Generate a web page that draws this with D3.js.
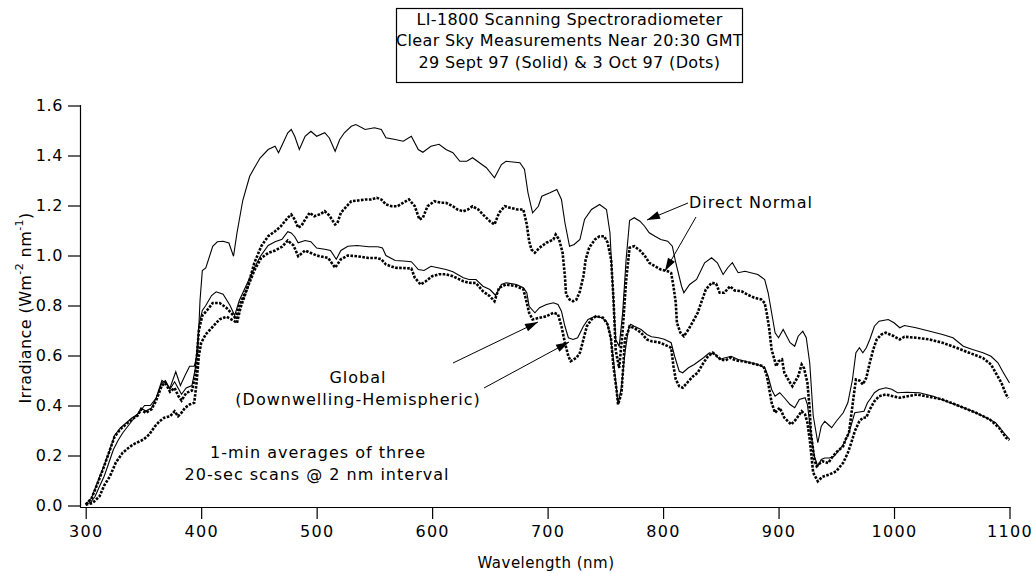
<!DOCTYPE html>
<html>
<head>
<meta charset="utf-8">
<script src="https://cdn.jsdelivr.net/npm/d3@7"></script>
<style>
  body { margin: 0; background: #fff; }
  text { font-family: "DejaVu Sans", sans-serif; fill: #000; }
</style>
</head>
<body>
<div id="chart"></div>
<script>
// [wavelength nm, irradiance W m-2 nm-1]
const directSolid = [[300,0.005],[304,0.012],[308,0.035],[312,0.077],[316,0.117],[320,0.17],[324,0.224],[328,0.26],[332,0.29],[337,0.32],[341,0.344],[347,0.377],[351,0.40],[356,0.40],[361,0.43],[366,0.50],[369,0.49],[373,0.47],[378,0.535],[382,0.48],[386,0.52],[390,0.557],[394,0.557],[397,0.61],[399,0.82],[401,0.94],[404,0.95],[410,1.037],[414,1.055],[419,1.057],[424,1.05],[428,0.997],[431,1.09],[436,1.22],[442,1.317],[446,1.35],[451,1.39],[458,1.424],[464,1.437],[467,1.411],[471,1.451],[475,1.491],[478,1.504],[481,1.477],[485,1.424],[490,1.477],[495,1.497],[500,1.477],[507,1.491],[511,1.47],[516,1.417],[520,1.464],[524,1.491],[530,1.517],[534,1.524],[542,1.504],[550,1.511],[556,1.504],[560,1.471],[568,1.464],[575,1.457],[582,1.477],[588,1.424],[592,1.413],[599,1.437],[606,1.445],[612,1.424],[618,1.411],[624,1.377],[630,1.377],[635,1.391],[641,1.371],[647,1.351],[654,1.311],[660,1.364],[664,1.377],[676,1.371],[680,1.344],[683,1.251],[687,1.171],[692,1.197],[695,1.237],[702,1.251],[708,1.264],[712,1.224],[715,1.131],[719,1.037],[723,1.044],[728,1.064],[732,1.144],[738,1.184],[745,1.204],[751,1.184],[754,1.091],[757,0.824],[759,0.664],[762,0.637],[765,0.771],[768,0.984],[771,1.14],[775,1.151],[780,1.137],[784,1.117],[788,1.091],[793,1.077],[798,1.064],[804,1.057],[808,1.037],[811,0.971],[816,0.877],[818,0.851],[823,0.884],[829,0.904],[836,0.971],[842,0.991],[847,0.971],[852,0.924],[856,0.951],[860,0.971],[865,0.931],[871,0.937],[876,0.931],[882,0.924],[888,0.904],[891,0.851],[894,0.771],[897,0.691],[900,0.671],[904,0.704],[910,0.651],[914,0.637],[917,0.677],[921,0.697],[924,0.671],[927,0.57],[930,0.36],[934,0.251],[937,0.317],[940,0.337],[943,0.324],[946,0.311],[950,0.337],[956,0.371],[960,0.411],[964,0.504],[967,0.611],[970,0.631],[973,0.611],[976,0.631],[979,0.664],[983,0.717],[987,0.737],[995,0.744],[1000,0.731],[1005,0.711],[1009,0.72],[1019,0.711],[1031,0.697],[1042,0.684],[1051,0.671],[1060,0.637],[1068,0.624],[1077,0.611],[1084,0.597],[1090,0.571],[1094,0.537],[1100,0.49]];

const directDots = [[300,0.003],[306,0.01],[312,0.037],[316,0.08],[321,0.117],[326,0.171],[332,0.211],[337,0.23],[341,0.244],[346,0.255],[350,0.264],[355,0.284],[360,0.317],[364,0.337],[368,0.351],[373,0.357],[377,0.377],[380,0.357],[383,0.371],[386,0.391],[390,0.404],[394,0.411],[396,0.49],[398,0.60],[400,0.65],[404,0.685],[410,0.715],[416,0.745],[422,0.755],[428,0.74],[431,0.73],[434,0.79],[440,0.87],[446,0.97],[452,1.037],[458,1.077],[464,1.097],[469,1.117],[475,1.151],[478,1.164],[481,1.144],[484,1.111],[487,1.12],[490,1.144],[494,1.171],[498,1.157],[503,1.165],[507,1.177],[511,1.16],[516,1.124],[518,1.13],[521,1.171],[526,1.197],[530,1.217],[536,1.22],[542,1.224],[547,1.224],[552,1.231],[556,1.224],[560,1.204],[565,1.197],[570,1.197],[575,1.211],[580,1.224],[585,1.197],[589,1.144],[592,1.151],[596,1.197],[602,1.217],[608,1.211],[612,1.211],[618,1.197],[622,1.184],[627,1.177],[631,1.184],[635,1.197],[640,1.184],[644,1.164],[650,1.137],[654,1.124],[658,1.171],[663,1.197],[668,1.19],[674,1.184],[679,1.184],[682,1.124],[684,1.057],[686,1.024],[689,1.011],[693,1.031],[699,1.051],[705,1.064],[707,1.084],[710,1.064],[713,1.011],[715,0.917],[716,0.844],[719,0.824],[722,0.817],[725,0.824],[728,0.857],[731,0.917],[733,0.984],[736,1.031],[741,1.064],[745,1.077],[749,1.077],[752,1.051],[755,0.984],[757,0.831],[759,0.62],[762,0.55],[765,0.70],[768,0.90],[771,1.031],[775,1.037],[780,1.02],[784,1.0],[788,0.971],[793,0.957],[798,0.944],[804,0.937],[807,0.93],[809,0.877],[811,0.811],[812,0.731],[815,0.691],[818,0.677],[822,0.704],[826,0.737],[830,0.771],[833,0.811],[837,0.864],[842,0.891],[846,0.887],[849,0.851],[853,0.851],[858,0.877],[862,0.86],[868,0.857],[873,0.844],[879,0.831],[885,0.824],[888,0.81],[890,0.764],[892,0.704],[894,0.624],[898,0.557],[900,0.577],[903,0.584],[905,0.531],[910,0.491],[912,0.477],[917,0.517],[920,0.564],[922,0.55],[925,0.491],[927,0.384],[928,0.291],[931,0.184],[933,0.157],[936,0.17],[938,0.177],[943,0.17],[947,0.197],[951,0.217],[956,0.237],[958,0.264],[961,0.291],[964,0.40],[967,0.504],[970,0.50],[973,0.484],[976,0.511],[979,0.571],[982,0.624],[985,0.664],[989,0.684],[993,0.691],[1000,0.677],[1005,0.664],[1009,0.675],[1019,0.671],[1031,0.664],[1042,0.651],[1054,0.631],[1065,0.611],[1077,0.59],[1084,0.564],[1088,0.531],[1093,0.491],[1097,0.444],[1099,0.43]];

const globalSolid = [[300,0.005],[305,0.03],[310,0.09],[315,0.15],[320,0.21],[325,0.28],[330,0.31],[335,0.33],[340,0.35],[345,0.365],[348,0.39],[352,0.378],[357,0.39],[361,0.43],[366,0.49],[369,0.50],[373,0.465],[377,0.495],[380,0.47],[383,0.445],[387,0.47],[392,0.48],[395,0.55],[398,0.72],[401,0.78],[404,0.80],[409,0.84],[413,0.855],[419,0.845],[425,0.80],[429,0.76],[433,0.82],[439,0.88],[445,0.94],[451,0.995],[458,1.04],[464,1.055],[470,1.065],[475,1.095],[478,1.09],[481,1.075],[484,1.051],[490,1.06],[495,1.055],[500,1.03],[507,1.025],[512,1.02],[517,0.985],[521,1.02],[527,1.037],[535,1.04],[545,1.035],[553,1.035],[557,1.03],[560,1.0],[568,0.98],[575,0.978],[582,0.975],[585,0.96],[588,0.944],[593,0.94],[599,0.957],[606,0.95],[612,0.944],[618,0.935],[627,0.911],[632,0.904],[638,0.904],[644,0.877],[650,0.864],[655,0.84],[660,0.884],[664,0.891],[673,0.884],[679,0.871],[682,0.851],[684,0.797],[689,0.771],[693,0.791],[699,0.804],[705,0.811],[709,0.804],[712,0.777],[715,0.717],[718,0.671],[722,0.664],[726,0.671],[731,0.717],[735,0.744],[741,0.757],[747,0.751],[751,0.737],[754,0.691],[757,0.584],[760,0.451],[761,0.404],[764,0.477],[767,0.611],[770,0.704],[772,0.725],[775,0.717],[781,0.704],[786,0.684],[790,0.675],[796,0.671],[801,0.665],[807,0.651],[810,0.597],[814,0.537],[817,0.531],[822,0.551],[827,0.564],[835,0.591],[840,0.611],[845,0.605],[849,0.584],[853,0.59],[859,0.597],[865,0.584],[871,0.577],[876,0.571],[882,0.564],[888,0.551],[891,0.517],[894,0.464],[897,0.437],[901,0.451],[905,0.431],[910,0.404],[914,0.391],[918,0.424],[923,0.431],[925,0.404],[928,0.291],[931,0.197],[934,0.157],[937,0.184],[940,0.19],[944,0.19],[948,0.197],[953,0.224],[957,0.251],[961,0.291],[966,0.371],[970,0.374],[974,0.377],[977,0.411],[980,0.43],[983,0.451],[987,0.464],[993,0.471],[998,0.465],[1003,0.451],[1011,0.453],[1022,0.451],[1034,0.437],[1045,0.417],[1057,0.397],[1068,0.377],[1080,0.351],[1088,0.331],[1094,0.297],[1100,0.265]];

const globalDots = [[300,0.004],[305,0.028],[310,0.085],[315,0.145],[320,0.21],[325,0.275],[330,0.305],[335,0.325],[340,0.345],[345,0.36],[348,0.385],[352,0.37],[357,0.385],[361,0.42],[366,0.48],[369,0.49],[373,0.455],[377,0.47],[380,0.44],[383,0.42],[387,0.45],[392,0.46],[395,0.52],[398,0.70],[401,0.76],[405,0.78],[410,0.81],[416,0.81],[422,0.79],[428,0.76],[430,0.745],[433,0.80],[440,0.87],[446,0.94],[452,0.99],[458,1.01],[464,1.02],[470,1.035],[475,1.06],[480,1.04],[484,0.997],[490,1.02],[495,1.01],[500,1.0],[505,0.995],[510,0.99],[516,0.951],[521,0.985],[527,1.0],[535,0.997],[545,0.99],[552,0.99],[556,0.985],[560,0.964],[568,0.951],[575,0.95],[582,0.948],[585,0.911],[590,0.884],[594,0.895],[600,0.917],[606,0.925],[612,0.925],[618,0.917],[627,0.897],[632,0.891],[638,0.89],[644,0.857],[650,0.837],[654,0.817],[658,0.871],[664,0.884],[673,0.877],[679,0.865],[682,0.811],[684,0.771],[687,0.744],[693,0.751],[699,0.757],[705,0.771],[709,0.765],[712,0.717],[715,0.651],[718,0.597],[720,0.577],[725,0.591],[728,0.611],[731,0.664],[734,0.717],[738,0.744],[742,0.757],[748,0.751],[752,0.724],[755,0.664],[757,0.557],[760,0.451],[761,0.404],[764,0.451],[767,0.664],[770,0.70],[771,0.717],[775,0.71],[781,0.691],[786,0.664],[790,0.657],[796,0.653],[801,0.644],[807,0.631],[809,0.557],[811,0.504],[814,0.477],[817,0.471],[822,0.497],[826,0.517],[830,0.531],[835,0.571],[839,0.597],[843,0.611],[846,0.6],[850,0.584],[854,0.58],[858,0.591],[863,0.58],[869,0.577],[875,0.571],[881,0.564],[887,0.557],[890,0.517],[894,0.411],[897,0.371],[901,0.391],[905,0.351],[911,0.324],[915,0.344],[920,0.377],[923,0.364],[925,0.331],[927,0.264],[930,0.131],[934,0.097],[938,0.115],[944,0.124],[950,0.137],[956,0.171],[960,0.211],[963,0.251],[966,0.297],[970,0.337],[973,0.351],[976,0.352],[979,0.384],[983,0.417],[987,0.437],[993,0.444],[999,0.437],[1005,0.431],[1020,0.444],[1042,0.424],[1057,0.397],[1071,0.371],[1083,0.344],[1091,0.311],[1097,0.271],[1100,0.262]];

const xTicks = [300, 400, 500, 600, 700, 800, 900, 1000, 1100];
const yTicks = [0.0, 0.2, 0.4, 0.6, 0.8, 1.0, 1.2, 1.4, 1.6];
const titleLines = ['LI-1800 Scanning Spectroradiometer', 'Clear Sky Measurements Near 20:30 GMT', '29 Sept 97 (Solid) & 3 Oct 97 (Dots)'];

const width = 1034, height = 573;
const svg = d3.select('#chart').append('svg')
  .attr('width', width).attr('height', height)
  .style('background', '#fff');

const x = d3.scaleLinear().domain([300, 1100]).range([85.7, 1009.5]);
const y = d3.scaleLinear().domain([0, 1.6]).range([505.5, 105.5]);

// axes (offset a little from the data, like the original)
const xAxis = svg.append('g').attr('transform', 'translate(0,507)')
  .call(d3.axisBottom(x).tickValues(xTicks).tickFormat(d3.format('d')).tickSize(12).tickSizeOuter(0));
xAxis.select('.domain').attr('d', 'M80,0.5H1010.5');
xAxis.selectAll('text').attr('dy', null).attr('y', 30)
  .style('font-size', '16px').style('letter-spacing', '1.3px');

const yAxis = svg.append('g').attr('transform', 'translate(80,0)')
  .call(d3.axisLeft(y).tickValues(yTicks).tickFormat(d3.format('.1f')).tickSize(12).tickSizeOuter(0));
yAxis.select('.domain').attr('d', 'M0.5,105H0.5V507.5');
yAxis.selectAll('text').attr('x', -17).style('font-size', '16px').style('letter-spacing', '0.6px');
svg.selectAll('.tick line').attr('stroke', '#000').attr('stroke-width', 1.2);
svg.selectAll('.domain').attr('stroke', '#000').attr('stroke-width', 1.2);
svg.selectAll('.tick text').attr('font-family', null);

svg.append('text').attr('x', 546).attr('y', 563).attr('text-anchor', 'middle')
  .attr('dominant-baseline', 'middle').style('font-size', '15px').style('letter-spacing', '0.5px')
  .text('Wavelength (nm)');

const yl = svg.append('text').attr('transform', 'translate(26,308) rotate(-90)')
  .attr('text-anchor', 'middle').attr('dominant-baseline', 'middle')
  .style('font-size', '16px').style('letter-spacing', '0.4px');
yl.append('tspan').text('Irradiance (Wm');
yl.append('tspan').attr('dy', -6).style('font-size', '11px').text('-2');
yl.append('tspan').attr('dy', 6).text(' nm');
yl.append('tspan').attr('dy', -6).style('font-size', '11px').text('-1');
yl.append('tspan').attr('dy', 6).text(')');

// series
const line = d3.line().x(d => x(d[0])).y(d => y(d[1]));
[directSolid, globalSolid].forEach(s => {
  svg.append('path').datum(s).attr('d', line)
    .attr('fill', 'none').attr('stroke', '#000').attr('stroke-width', 1.1);
});
[directDots, globalDots].forEach(s => {
  svg.append('path').datum(s).attr('d', line)
    .attr('fill', 'none').attr('stroke', '#000').attr('stroke-width', 2.6)
    .attr('stroke-dasharray', '2.6,1.4');
});

// title box
svg.append('rect').attr('x', 396.5).attr('y', 8.5).attr('width', 346).attr('height', 74)
  .attr('fill', '#fff').attr('stroke', '#000').attr('stroke-width', 1.2);
svg.selectAll('.title').data(titleLines).enter().append('text')
  .attr('x', 569.5).attr('y', (d, i) => 20 + i * 21.5)
  .attr('text-anchor', 'middle').attr('dominant-baseline', 'middle')
  .style('font-size', '16px').style('letter-spacing', '0.35px').text(d => d);

// annotations
function arrow(x1, y1, x2, y2) {
  svg.append('line').attr('x1', x1).attr('y1', y1).attr('x2', x2).attr('y2', y2)
    .attr('stroke', '#000').attr('stroke-width', 1);
  const a = Math.atan2(y2 - y1, x2 - x1), len = 13, w = 4;
  const bx = x2 - len * Math.cos(a), by = y2 - len * Math.sin(a);
  const pts = [[x2, y2],
    [bx + w * Math.sin(a), by - w * Math.cos(a)],
    [bx - w * Math.sin(a), by + w * Math.cos(a)]];
  svg.append('polygon').attr('points', pts.map(p => p.join(',')).join(' ')).attr('fill', '#000');
}
arrow(688, 203, 647, 220);
arrow(696, 217, 665, 271);
arrow(453, 363, 538, 322);
arrow(484, 388, 569, 342);

const notes = [
  { t: 'Direct Normal', x: 689, y: 203, a: 'start' },
  { t: 'Global', x: 358, y: 378, a: 'middle' },
  { t: '(Downwelling-Hemispheric)', x: 358, y: 400, a: 'middle' },
  { t: '1-min averages of three', x: 318, y: 453, a: 'middle' },
  { t: '20-sec scans @ 2 nm interval', x: 317, y: 475, a: 'middle' }
];
svg.selectAll('.note').data(notes).enter().append('text')
  .attr('x', d => d.x).attr('y', d => d.y).attr('text-anchor', d => d.a)
  .attr('dominant-baseline', 'middle').style('font-size', '16px').style('letter-spacing', '1px')
  .text(d => d.t);
</script>
</body>
</html>
